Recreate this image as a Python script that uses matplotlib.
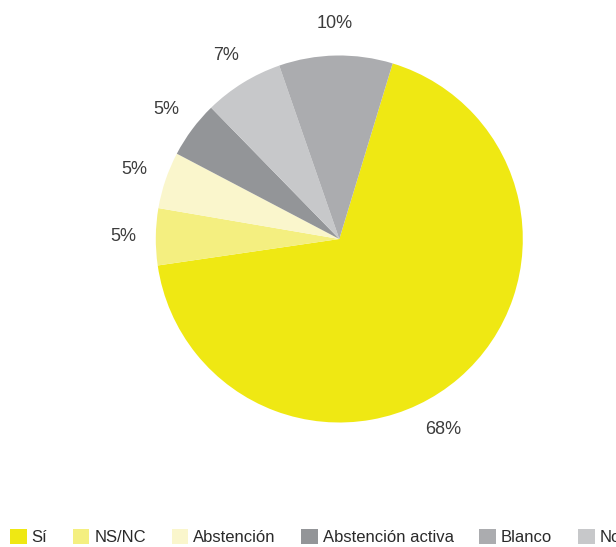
import numpy as np
import matplotlib
matplotlib.use("Agg")
import matplotlib.pyplot as plt
from matplotlib.patches import Patch

plt.rcParams['font.family'] = ['Liberation Sans', 'DejaVu Sans']

# wedges in drawing order (clockwise from the top)
labels = ['Sí', 'NS/NC', 'Abstención', 'Abstención activa', 'No', 'Blanco']
values = [68, 5, 5, 5, 7, 10]
colors = ['#efe813', '#f4ef80', '#faf6cc', '#939598', '#c7c8ca', '#abacaf']

# legend order
legend_order = ['Sí', 'NS/NC', 'Abstención', 'Abstención activa', 'Blanco', 'No']

W, H = 616, 547
cx, cy, rad = 339.3, 239.0, 183.5

fig = plt.figure(figsize=(W / 100, H / 100), dpi=100)
ax = fig.add_axes([0, 0, 1, 1])

wedges, texts, autotexts = ax.pie(
    values, colors=colors, startangle=73.1, counterclock=False,
    autopct='%d%%', pctdistance=1.177, radius=1.0,
    wedgeprops=dict(linewidth=0),
    textprops=dict(fontsize=13, color='#3c3c3c'))

# the big slice carries its label further round, below the pie
ang = np.deg2rad(-61.3)
autotexts[0].set_position((1.183 * np.cos(ang), 1.183 * np.sin(ang)))

ax.set_xlim(-cx / rad, (W - cx) / rad)
ax.set_ylim(-(H - cy) / rad, cy / rad)
ax.set_aspect('auto')
ax.axis('off')

handles = [Patch(facecolor=colors[labels.index(l)], edgecolor='none', label=l)
           for l in legend_order]
fig.legend(handles=handles, loc='center left', ncol=6,
           bbox_to_anchor=(10 / W, 1 - 537 / H), frameon=False,
           fontsize=12, handlelength=1.0, handleheight=1.0,
           handletextpad=0.28, columnspacing=1.55,
           borderpad=0, borderaxespad=0, labelcolor='#2a2a2a')

fig.savefig('out.png', dpi=100)
